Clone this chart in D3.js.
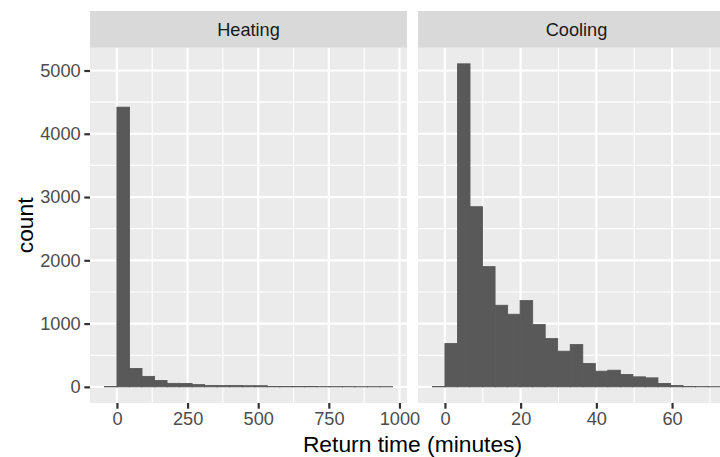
<!DOCTYPE html>
<meta charset="utf-8">
<style>
  body { margin: 0; background: #fff; }
  svg { display: block; font-family: "Liberation Sans", Arial, sans-serif; }
</style>
<svg width="720" height="457"></svg>
<script src="https://cdn.jsdelivr.net/npm/d3@7"></script>
<script>
// histogram bins: 23 bins each, first bin starts one binwidth below 0
const facets = ["Heating", "Cooling"];
const binWidths = [44.35, 3.31];
const heatingCounts = [6, 4420, 290, 165, 100, 55, 52, 35, 22, 20, 20, 18, 18, 6, 5, 5, 5, 4, 4, 4, 3, 3, 3];
const coolingCounts = [5, 684, 5105, 2847, 1900, 1289, 1147, 1363, 984, 763, 563, 668, 368, 247, 263, 195, 158, 142, 53, 21, 6, 4, 3];
const xMajor = [[0, 250, 500, 750, 1000], [0, 20, 40, 60]];
const xMinor = [[125, 375, 625, 875], [10, 30, 50, 70]];
const yMajor = [0, 1000, 2000, 3000, 4000, 5000];
const yMinor = [500, 1500, 2500, 3500, 4500];
const xTitle = "Return time (minutes)";
const yTitle = "count";

const svg = d3.select("svg");
const panelTop = 47.7, panelBottom = 403, stripTop = 11;
const panels = [{x0: 90, x1: 407}, {x0: 418, x1: 735}];
const counts = [heatingCounts, coolingCounts];

const yMax = d3.max(counts.flat());
const y = d3.scaleLinear([-0.05 * yMax, 1.05 * yMax], [panelBottom, panelTop]);

const fs = 18.2;

svg.append("defs").selectAll("clipPath")
  .data(panels)
  .join("clipPath")
    .attr("id", (d, i) => "clip" + i)
  .append("rect")
    .attr("x", d => d.x0).attr("y", panelTop)
    .attr("width", d => d.x1 - d.x0).attr("height", panelBottom - panelTop);

panels.forEach((p, i) => {
  const w = binWidths[i];
  const bins = counts[i].map((c, k) => ({x0: (k - 1) * w, x1: k * w, n: c}));
  const lo = bins[0].x0, hi = bins[bins.length - 1].x1;
  const x = d3.scaleLinear([lo - 0.05 * (hi - lo), hi + 0.05 * (hi - lo)], [p.x0, p.x1]);

  const g = svg.append("g");

  // panel background + grid
  g.append("rect")
      .attr("x", p.x0).attr("y", panelTop)
      .attr("width", p.x1 - p.x0).attr("height", panelBottom - panelTop)
      .attr("fill", "#EBEBEB");

  const grid = g.append("g").attr("stroke", "#fff");
  grid.selectAll(".ymin").data(yMinor).join("line")
      .attr("x1", p.x0).attr("x2", p.x1)
      .attr("y1", d => y(d)).attr("y2", d => y(d))
      .attr("stroke-width", 1.1);
  grid.selectAll(".xmin").data(xMinor[i]).join("line")
      .attr("y1", panelTop).attr("y2", panelBottom)
      .attr("x1", d => x(d)).attr("x2", d => x(d))
      .attr("stroke-width", 1.1);
  grid.selectAll(".ymaj").data(yMajor).join("line")
      .attr("x1", p.x0).attr("x2", p.x1)
      .attr("y1", d => y(d)).attr("y2", d => y(d))
      .attr("stroke-width", 2.2);
  grid.selectAll(".xmaj").data(xMajor[i]).join("line")
      .attr("y1", panelTop).attr("y2", panelBottom)
      .attr("x1", d => x(d)).attr("x2", d => x(d))
      .attr("stroke-width", 2.2);

  // bars (same-colour stroke hides antialias seams between bins)
  g.append("g")
      .attr("clip-path", `url(#clip${i})`)
      .attr("fill", "#595959")
      .attr("stroke", "#595959")
      .attr("stroke-width", 0.9)
    .selectAll("rect")
    .data(bins)
    .join("rect")
      .attr("x", d => x(d.x0))
      .attr("width", d => x(d.x1) - x(d.x0))
      .attr("y", d => y(d.n))
      .attr("height", d => y(0) - y(d.n));

  // strip
  g.append("rect")
      .attr("x", p.x0).attr("y", stripTop)
      .attr("width", p.x1 - p.x0).attr("height", panelTop - stripTop)
      .attr("fill", "#D9D9D9");
  g.append("text")
      .attr("x", (p.x0 + p.x1) / 2)
      .attr("y", (stripTop + panelTop) / 2)
      .attr("dy", "0.35em")
      .attr("text-anchor", "middle")
      .attr("font-size", fs)
      .attr("fill", "#1A1A1A")
      .text(facets[i]);

  // x axis
  const xa = g.append("g").attr("transform", `translate(0,${panelBottom})`)
    .call(d3.axisBottom(x).tickValues(xMajor[i]).tickSize(5.7).tickPadding(3.8).tickFormat(d3.format("d")));
  xa.select(".domain").remove();
  xa.selectAll(".tick line").attr("stroke", "#333333").attr("stroke-width", 2.2);
  xa.selectAll(".tick text").attr("fill", "#4D4D4D").attr("font-size", fs).attr("dy", "0.71em");
  xa.attr("font-family", null).attr("font-size", null);
});

// y axis on the left panel
const ya = svg.append("g").attr("transform", `translate(${panels[0].x0},0)`)
  .call(d3.axisLeft(y).tickValues(yMajor).tickSize(5.7).tickPadding(3.6).tickFormat(d3.format("d")));
ya.select(".domain").remove();
ya.selectAll(".tick line").attr("stroke", "#333333").attr("stroke-width", 2.2);
ya.selectAll(".tick text").attr("fill", "#4D4D4D").attr("font-size", fs);
ya.attr("font-family", null).attr("font-size", null);

// titles
svg.append("text")
    .attr("x", (panels[0].x0 + panels[1].x1) / 2)
    .attr("y", 451.5)
    .attr("text-anchor", "middle")
    .attr("font-size", 22.8)
    .attr("fill", "#000")
    .text(xTitle);

svg.append("text")
    .attr("transform", `translate(33,${(panelTop + panelBottom) / 2}) rotate(-90)`)
    .attr("text-anchor", "middle")
    .attr("font-size", 22.8)
    .attr("fill", "#000")
    .text(yTitle);
</script>
